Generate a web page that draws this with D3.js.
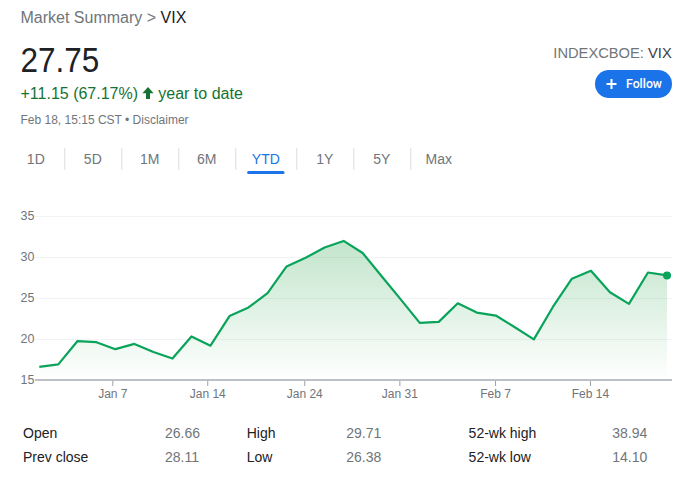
<!DOCTYPE html>
<html>
<head>
<meta charset="utf-8">
<script src="https://cdn.jsdelivr.net/npm/d3@7"></script>
<style>
  html, body { margin: 0; padding: 0; background: #fff; }
  svg { display: block; font-family: Arial, "Liberation Sans", sans-serif; }
</style>
</head>
<body>
<svg id="chart" width="692" height="479"></svg>
<script>
// ---------- data ----------
const dates = ["Jan 3","Jan 4","Jan 5","Jan 6","Jan 7","Jan 10","Jan 11","Jan 12","Jan 13","Jan 14",
  "Jan 18","Jan 19","Jan 20","Jan 21","Jan 24","Jan 25","Jan 26","Jan 27","Jan 28","Jan 31",
  "Feb 1","Feb 2","Feb 3","Feb 4","Feb 7","Feb 8","Feb 9","Feb 10","Feb 11","Feb 14",
  "Feb 15","Feb 16","Feb 17","Feb 18"];
const values = [16.60,16.91,19.73,19.61,18.76,19.40,18.41,17.62,20.31,19.19,
  22.79,23.85,25.59,28.85,29.90,31.16,31.96,30.49,27.66,24.83,
  21.96,22.09,24.35,23.22,22.86,21.44,19.96,23.91,27.36,28.33,
  25.70,24.29,28.11,27.75];
const xTickLabels = ["Jan 7","Jan 14","Jan 24","Jan 31","Feb 7","Feb 14"];
const xTickIndex = [3.84, 8.83, 13.93, 18.93, 23.96, 28.95];
const yTicks = [15, 20, 25, 30, 35];
const tabs = ["1D","5D","1M","6M","YTD","1Y","5Y","Max"];
const activeTab = "YTD";
const statLabels = [["Open","Prev close"],["High","Low"],["52-wk high","52-wk low"]];
const statValues = [["26.66","28.11"],["29.71","26.38"],["38.94","14.10"]];

// ---------- setup ----------
const svg = d3.select("#chart");
const gray = "#70757a", dark = "#202124", green = "#137333", blue = "#1a73e8", lineGreen = "#0aa35a";

// ---------- header ----------
const t1 = svg.append("text").attr("x", 20.5).attr("y", 22.5).attr("font-size", 16);
t1.append("tspan").attr("fill", gray).text("Market Summary > ");
t1.append("tspan").attr("fill", dark).text("VIX");

svg.append("text").attr("transform", "translate(20.5,71.7) scale(0.9,1)")
  .attr("font-size", 35).attr("fill", dark).text("27.75");

svg.append("text").attr("x", 20.5).attr("y", 99.3).attr("font-size", 16).attr("fill", green)
  .text("+11.15 (67.17%)");
svg.append("path")
  .attr("d", "M148,87 L153.6,93.2 L150,93.2 L150,99 L146,99 L146,93.2 L142.4,93.2 Z")
  .attr("fill", green);
svg.append("text").attr("x", 158.3).attr("y", 99.3).attr("font-size", 16).attr("fill", green)
  .text("year to date");

svg.append("text").attr("x", 20.5).attr("y", 124).attr("font-size", 12).attr("fill", gray)
  .text("Feb 18, 15:15 CST \u2022 Disclaimer");

const t2 = svg.append("text").attr("x", 671.7).attr("y", 58.3).attr("font-size", 14.7)
  .attr("text-anchor", "end");
t2.append("tspan").attr("fill", gray).text("INDEXCBOE: ");
t2.append("tspan").attr("fill", "#3c4043").text("VIX");

// Follow button
svg.append("rect").attr("x", 595).attr("y", 70).attr("width", 77).attr("height", 28)
  .attr("rx", 14).attr("fill", blue);
svg.append("path").attr("d", "M606.5,84H616.5M611.5,79V89").attr("stroke", "#fff").attr("stroke-width", 2);
svg.append("text").attr("x", 626).attr("y", 88.3).attr("font-size", 12.3)
  .attr("font-family", "Roboto, Arial, sans-serif").attr("font-weight", 500)
  .attr("fill", "#fff").text("Follow");

// ---------- tabs ----------
let tx = 7.3;
const tabG = svg.append("g");
tabs.forEach((t, i) => {
  const w = t === activeTab ? 61 : 57;
  const cx = tx + w / 2;
  tabG.append("text").attr("x", cx).attr("y", 164.3).attr("font-size", 14)
    .attr("text-anchor", "middle").attr("fill", t === activeTab ? blue : gray).text(t);
  if (t === activeTab) {
    tabG.append("rect").attr("x", cx - 18.7).attr("y", 171).attr("width", 37.4).attr("height", 3)
      .attr("rx", 1.5).attr("fill", blue);
  }
  if (i < tabs.length - 1) {
    tabG.append("line").attr("x1", tx + w + 0.5).attr("x2", tx + w + 0.5)
      .attr("y1", 148).attr("y2", 170).attr("stroke", "#dadce0").attr("stroke-width", 1);
  }
  tx += w;
});

// ---------- chart ----------
const x = d3.scaleLinear().domain([0, values.length - 1]).range([39.3, 667]);
const y = d3.scaleLinear().domain([15, 35]).range([380, 216]);
const plotLeft = 35, plotRight = 672;

// gridlines
svg.append("g").selectAll("line").data(yTicks.filter(v => v !== 15)).join("line")
  .attr("x1", plotLeft).attr("x2", plotRight)
  .attr("y1", d => Math.round(y(d)) + 0.5).attr("y2", d => Math.round(y(d)) + 0.5)
  .attr("stroke", "#f1f3f4").attr("stroke-width", 1);

// y labels
svg.append("g").selectAll("text").data(yTicks).join("text")
  .attr("x", 34.5).attr("y", d => y(d) + 4.3).attr("text-anchor", "end")
  .attr("font-size", 12.5).attr("fill", gray).text(d => d);

// gradient
const defs = svg.append("defs");
const grad = defs.append("linearGradient").attr("id", "areaGrad")
  .attr("gradientUnits", "userSpaceOnUse").attr("x1", 0).attr("x2", 0)
  .attr("y1", y(32)).attr("y2", y(15));
grad.append("stop").attr("offset", 0).attr("stop-color", "#34a853").attr("stop-opacity", 0.3);
grad.append("stop").attr("offset", 1).attr("stop-color", "#34a853").attr("stop-opacity", 0);

const area = d3.area().x((d, i) => x(i)).y0(y(15)).y1(d => y(d));
svg.append("path").datum(values).attr("d", area).attr("fill", "url(#areaGrad)");

// x axis
const xAxis = d3.axisBottom(x).tickValues(xTickIndex)
  .tickFormat((d, i) => xTickLabels[i]).tickSize(6).tickSizeOuter(0);
const ax = svg.append("g").attr("transform", "translate(0,380)").call(xAxis);
ax.select(".domain").remove();
ax.selectAll(".tick line").attr("stroke", "#9aa0a6").attr("stroke-width", 1);
ax.selectAll(".tick text").attr("font-size", 12).attr("fill", gray)
  .attr("font-family", "Arial, 'Liberation Sans', sans-serif").attr("dy", 0).attr("y", 18);
svg.append("line").attr("x1", plotLeft).attr("x2", plotRight).attr("y1", 380).attr("y2", 380)
  .attr("stroke", "#bdc1c6").attr("stroke-width", 2);

// line
const line = d3.line().x((d, i) => x(i)).y(d => y(d));
svg.append("path").datum(values).attr("d", line).attr("fill", "none")
  .attr("stroke", lineGreen).attr("stroke-width", 2.2).attr("stroke-linejoin", "round");
svg.append("circle").attr("cx", x(values.length - 1)).attr("cy", y(values[values.length - 1]))
  .attr("r", 4).attr("fill", lineGreen);

// ---------- stats table ----------
const colLabelX = [23, 246.7, 468.6];
const colValueX = [165, 346.2, 612.3];
const rowY = [438.3, 462.3];
statLabels.forEach((col, c) => {
  col.forEach((lab, r) => {
    svg.append("text").attr("x", colLabelX[c]).attr("y", rowY[r]).attr("font-size", 14)
      .attr("fill", dark).text(lab);
    svg.append("text").attr("x", colValueX[c]).attr("y", rowY[r]).attr("font-size", 14)
      .attr("fill", gray).text(statValues[c][r]);
  });
});
</script>
</body>
</html>
